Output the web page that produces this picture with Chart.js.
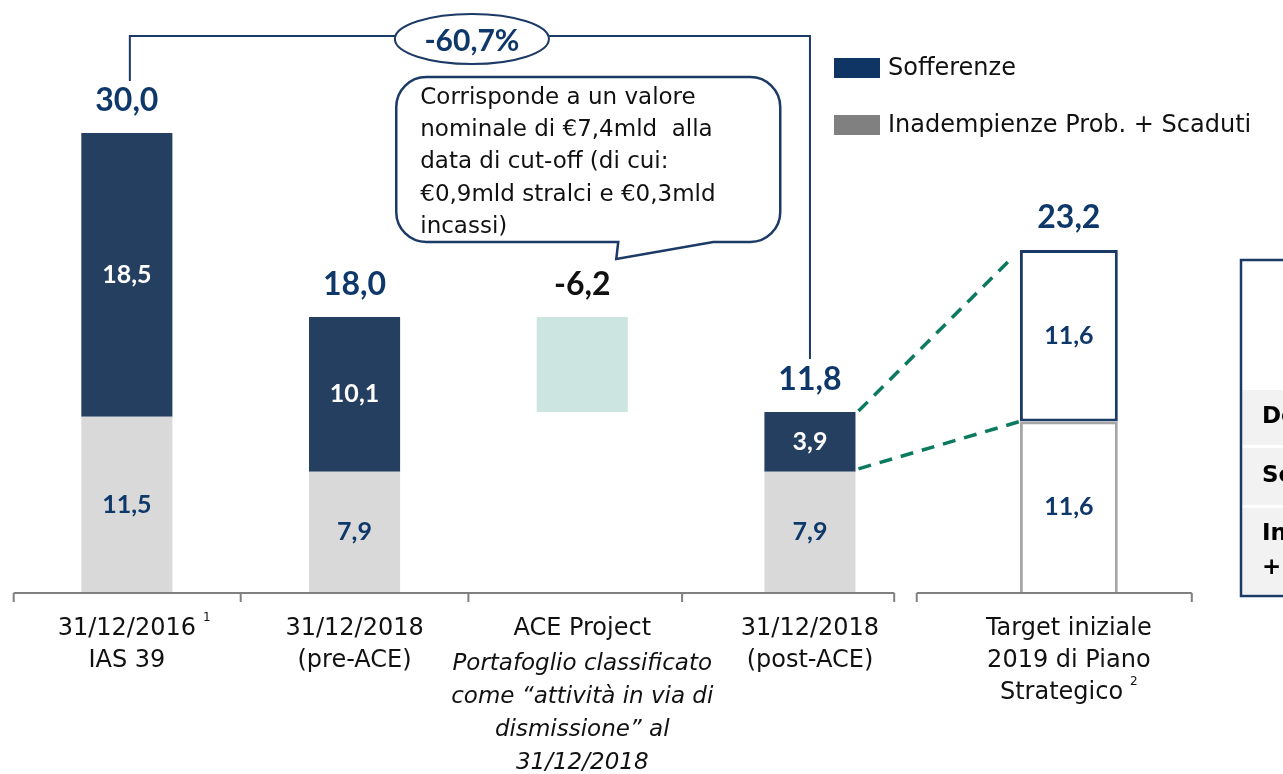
<!DOCTYPE html>
<html>
<head>
<meta charset="utf-8">
<script src="https://cdn.jsdelivr.net/npm/chart.js@4/dist/chart.umd.min.js"></script>
<style>
  html, body { margin: 0; padding: 0; background: #fff; overflow: hidden; }
  canvas { display: block; }
</style>
</head>
<body>
<canvas id="chart" width="1283" height="774"></canvas>
<script>
// values in €bn
const categories = [
  ['31/12/2016', 'IAS 39'],
  ['31/12/2018', '(pre-ACE)'],
  ['ACE Project'],
  ['31/12/2018', '(post-ACE)'],
  ['Target iniziale', '2019 di Piano', 'Strategico']
];
const categoryNotes = [[], [], ['Portafoglio classificato', 'come “attività in via di', 'dismissione” al', '31/12/2018'], [], []];
const footnotes = [{line: 0, mark: '1', inline: false}, null, null, null, {line: 2, mark: '2', inline: true}];

const inadempienze = [11.5, 7.9, null, 7.9, null];
const sofferenze = [18.5, 10.1, null, 3.9, null];
const aceProject = [null, null, [18.0, 11.8], null, null];
const targetInadempienze = [null, null, null, null, 11.6];
const targetSofferenze = [null, null, null, null, 11.6];

const calloutLines = [
  'Corrisponde a un valore',
  'nominale di €7,4mld  alla',
  'data di cut-off (di cui:',
  '€0,9mld stralci e €0,3mld',
  'incassi)'
];
const tableRows = [['Deteriorati'], ['Sofferenze'], ['Inadempienze Prob.', '+ Scaduti']];

const navyFill = '#243F60';
const navyText = '#0F386A';
const navyLine = '#1B3A66';
const greyFill = '#D9D9D9';
const aceFill = '#CDE5E0';
const legendNavy = '#0F3565';
const legendGrey = '#808080';
const dashGreen = '#0B7A5E';
const REG = '"DejaVu Sans", sans-serif';
const NUM = 'Lato, "DejaVu Sans", sans-serif';

// the target column sits a bit apart from the others (axis is broken there)
const TARGET_INDEX = 4;
const TARGET_GAP = 0.137; // in category widths

const BaseCategory = Chart.CategoryScale || Chart.registry.getScale('category');
class SplitCategoryScale extends BaseCategory {
  getPixelForValue(value, index) {
    const v = typeof value === 'number' ? value : this.parse(value);
    if (v === null) return NaN;
    const shift = v >= TARGET_INDEX ? TARGET_GAP : 0;
    return this.getPixelForDecimal((v + shift - this._startValue) / this._valueRange);
  }
}
SplitCategoryScale.id = 'splitCategory';
SplitCategoryScale.defaults = BaseCategory.defaults;
Chart.register(SplitCategoryScale);

const fmt = v => (v < 0 ? '-' : '') + Math.abs(v).toFixed(1).replace('.', ',');

function callout(ctx, l, t, r, b, rad, tail) {
  ctx.beginPath();
  ctx.moveTo(l + rad, t);
  ctx.lineTo(r - rad, t);
  ctx.arcTo(r, t, r, t + rad, rad);
  ctx.lineTo(r, b - rad);
  ctx.arcTo(r, b, r - rad, b, rad);
  ctx.lineTo(tail.x2, b);
  ctx.lineTo(tail.tx, tail.ty);
  ctx.lineTo(tail.x1, b);
  ctx.lineTo(l + rad, b);
  ctx.arcTo(l, b, l, b - rad, rad);
  ctx.lineTo(l, t + rad);
  ctx.arcTo(l, t, l + rad, t, rad);
  ctx.closePath();
}

const overlay = {
  id: 'overlay',
  afterDatasetsDraw(chart) {
    const ctx = chart.ctx;
    const xs = chart.scales.x;
    const step = xs.getPixelForValue(1) - xs.getPixelForValue(0);
    const cx = i => xs.getPixelForValue(i);
    const el = (d, i) => chart.getDatasetMeta(d).data[i];
    const base = chart.chartArea.bottom;
    ctx.save();

    // labels inside the segments
    const inside = [[0, navyText], [1, '#fff'], [3, navyText], [4, navyText]];
    ctx.textAlign = 'center';
    ctx.textBaseline = 'middle';
    ctx.font = 'bold 25px ' + NUM;
    inside.forEach(([d, color]) => {
      chart.data.datasets[d].data.forEach((v, i) => {
        if (v == null) return;
        const b = el(d, i);
        ctx.fillStyle = color;
        ctx.fillText(fmt(v), b.x, (b.y + b.base) / 2);
      });
    });

    // totals above each bar
    const totals = [];
    const labelY = [];
    ctx.font = 'bold 32px ' + NUM;
    categories.forEach((c, i) => {
      let total, top, color = navyText;
      if (aceProject[i]) {
        total = aceProject[i][1] - aceProject[i][0];
        const b = el(2, i);
        top = Math.min(b.y, b.base);
        color = '#111';
      } else if (targetSofferenze[i] != null) {
        total = targetInadempienze[i] + targetSofferenze[i];
        top = el(4, i).y;
      } else {
        total = inadempienze[i] + sofferenze[i];
        top = el(1, i).y;
      }
      totals[i] = total;
      labelY[i] = top - 32;
      ctx.fillStyle = color;
      ctx.fillText(fmt(total), cx(i), labelY[i]);
    });

    // bracket with the change between first and post-ACE stock
    const bx0 = cx(0) + 3, bx1 = cx(3), by = 36;
    ctx.strokeStyle = navyLine;
    ctx.lineWidth = 2;
    ctx.beginPath();
    ctx.moveTo(bx0, labelY[0] - 20);
    ctx.lineTo(bx0, by);
    ctx.lineTo(bx1, by);
    ctx.lineTo(bx1, labelY[3] - 21);
    ctx.stroke();
    const ex = (bx0 + bx1) / 2 + 2, ey = 39;
    ctx.beginPath();
    ctx.ellipse(ex, ey, 77, 25, 0, 0, Math.PI * 2);
    ctx.fillStyle = '#fff';
    ctx.fill();
    ctx.stroke();
    const change = (totals[3] - totals[0]) / totals[0] * 100;
    ctx.fillStyle = navyText;
    ctx.font = 'bold 30px ' + NUM;
    ctx.fillText(fmt(change) + '%', ex, ey + 2);

    // callout over the ACE bar
    const c2 = cx(2);
    callout(ctx, c2 - 186, 77, c2 + 198, 242, 30, {x1: c2 + 36, x2: c2 + 131, tx: c2 + 34, ty: 259});
    ctx.fillStyle = '#fff';
    ctx.fill();
    ctx.lineWidth = 2.5;
    ctx.strokeStyle = navyLine;
    ctx.stroke();
    ctx.fillStyle = '#111';
    ctx.font = '23px ' + REG;
    ctx.textAlign = 'left';
    calloutLines.forEach((t, k) => ctx.fillText(t, c2 - 162, 98 + k * 32.2));

    // dashed links post-ACE -> target
    const b3 = el(1, 3), t4 = el(4, 4), g4 = el(3, 4);
    const r3 = b3.x + b3.width / 2 + 3;
    const l4 = t4.x - t4.width / 2;
    ctx.strokeStyle = dashGreen;
    ctx.lineWidth = 3.5;
    ctx.setLineDash([13, 9]);
    ctx.beginPath();
    ctx.moveTo(r3, b3.y - 1);
    ctx.lineTo(l4 - 12, t4.y + 12);
    ctx.moveTo(r3, b3.base - 3);
    ctx.lineTo(l4, g4.y);
    ctx.stroke();
    ctx.setLineDash([]);

    // category axis, split before the target
    ctx.strokeStyle = '#808080';
    ctx.lineWidth = 2;
    const segs = [[cx(0) - step * 0.497, cx(3) + step * 0.37, [1, 2, 3]], [cx(4) - step * 0.668, cx(4) + step * 0.54, []]];
    ctx.beginPath();
    segs.forEach(([a, z, mids]) => {
      ctx.moveTo(a, base);
      ctx.lineTo(z, base);
      [a, z].concat(mids.map(m => (cx(m) + cx(m - 1)) / 2 + (m === 3 ? -14 : 0))).forEach(px => {
        ctx.moveTo(px, base);
        ctx.lineTo(px, base + 9);
      });
    });
    ctx.stroke();

    // category labels
    categories.forEach((lines, i) => {
      ctx.fillStyle = '#111';
      lines.forEach((t, k) => {
        const y = 629 + k * 32;
        ctx.font = '24px ' + REG;
        const fn = footnotes[i];
        if (fn && fn.line === k) {
          const w = ctx.measureText(t).width;
          ctx.font = '12px ' + REG;
          const mw = ctx.measureText(fn.mark).width + 7;
          const left = fn.inline ? cx(i) - (w + mw) / 2 : cx(i) - w / 2;
          ctx.textAlign = 'left';
          ctx.fillText(fn.mark, left + w + 7, y - 11);
          ctx.font = '24px ' + REG;
          ctx.fillText(t, left, y);
        } else {
          ctx.textAlign = 'center';
          ctx.fillText(t, cx(i), y);
        }
      });
      ctx.textAlign = 'center';
      ctx.font = 'italic 23px ' + REG;
      categoryNotes[i].forEach((t, k) => ctx.fillText(t, cx(i), 664 + k * 33));
    });

    // legend
    const legend = [[1, legendNavy, 58], [0, legendGrey, 115]];
    ctx.textAlign = 'left';
    ctx.font = '24px ' + REG;
    legend.forEach(([d, color, y]) => {
      ctx.fillStyle = color;
      ctx.fillRect(834, y, 46, 20);
      ctx.fillStyle = '#111';
      ctx.fillText(chart.data.datasets[d].label, 888, y + 11);
    });

    // clipped table on the right edge
    const rowsY = [[390, 445], [448, 505], [508, 594]];
    ctx.fillStyle = '#F2F2F2';
    rowsY.forEach(([a, z]) => ctx.fillRect(1242, a, 60, z - a));
    ctx.strokeStyle = navyLine;
    ctx.lineWidth = 2.5;
    ctx.strokeRect(1241, 260, 80, 336);
    ctx.fillStyle = '#000';
    ctx.font = 'bold 23px ' + REG;
    tableRows.forEach((lines, r) => {
      const [a, z] = rowsY[r];
      const mid = (a + z) / 2 - (lines.length - 1) * 17;
      lines.forEach((t, k) => ctx.fillText(t, 1262, mid + k * 34));
    });
    ctx.restore();
  }
};

new Chart(document.getElementById('chart'), {
  type: 'bar',
  data: {
    labels: categories,
    datasets: [
      {label: 'Inadempienze Prob. + Scaduti', data: inadempienze, backgroundColor: greyFill, yAxisID: 'y', barPercentage: 0.40},
      {label: 'Sofferenze', data: sofferenze, backgroundColor: navyFill, yAxisID: 'y', barPercentage: 0.40},
      {label: 'ACE Project', data: aceProject, backgroundColor: aceFill, yAxisID: 'y', barPercentage: 0.40},
      {label: 'Target Inadempienze', data: targetInadempienze, backgroundColor: '#fff', borderColor: '#A6A6A6',
        borderWidth: 3, yAxisID: 'y2', barPercentage: 0.43},
      {label: 'Target Sofferenze', data: targetSofferenze, backgroundColor: '#fff', borderColor: navyLine,
        borderWidth: 3, borderSkipped: false, yAxisID: 'y2', barPercentage: 0.43}
    ]
  },
  options: {
    responsive: false,
    animation: false,
    layout: {padding: {left: 13, right: 131.5, top: 0, bottom: 181}},
    datasets: {bar: {categoryPercentage: 1}},
    plugins: {legend: {display: false}, tooltip: {enabled: false}},
    scales: {
      x: {type: 'splitCategory', display: false, stacked: true},
      y: {display: false, stacked: true, min: 0, max: 38.67},
      y2: {display: false, stacked: true, min: 0, max: 40.1}
    }
  },
  plugins: [overlay]
});
</script>
</body>
</html>
